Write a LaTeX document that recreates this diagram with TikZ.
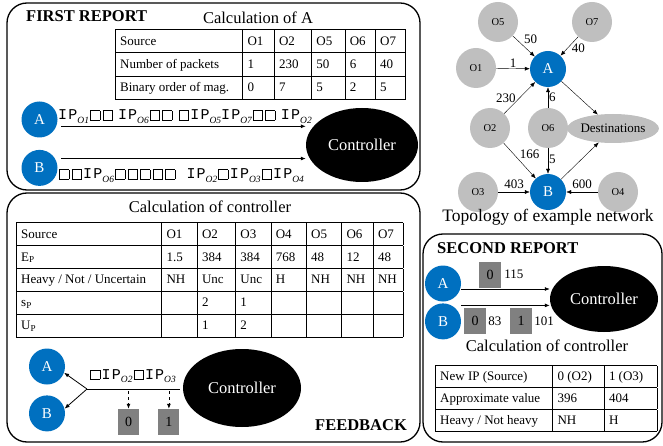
\documentclass[tikz,border=0pt]{standalone}
\usepackage{fontspec}
\setmainfont{Liberation Serif}
\newfontfamily\ipfont{Liberation Mono}
\usetikzlibrary{positioning,shapes.geometric,arrows.meta}

\definecolor{hostblue}{HTML}{0070C0}
\definecolor{srcgray}{HTML}{BFBFBF}
\definecolor{boxgray}{HTML}{808080}

\setlength{\tabcolsep}{5pt}
\setlength{\arrayrulewidth}{0.6pt}

\newcommand{\ipsrc}[1]{{\ipfont I\kern1.2pt P}\raisebox{-3.5pt}{\fontsize{9.5}{9.5}\selectfont\itshape #1}}
\newcommand{\sqbox}{\kern1pt{\setlength{\fboxsep}{0pt}\setlength{\fboxrule}{0.5pt}\fbox{\rule{0pt}{9pt}\hspace{9pt}}}\kern1.5pt}
\newcommand{\rowA}{\rule[-7.2pt]{0pt}{22.7pt}}
\newcommand{\rowB}{\rule[-7pt]{0pt}{22.3pt}}
\newcommand{\rowC}{\rule[-6.8pt]{0pt}{21.4pt}}

\begin{document}
\begin{tikzpicture}[x=1pt, y=-1pt, >={Latex[length=5pt,width=4pt]},
	report box/.style={draw, line width=1.3pt, rounded corners=20pt},
	host node/.style={circle, fill=hostblue, text=white, minimum size=36pt, inner sep=0pt, font=\fontsize{15}{15}\selectfont},
	src node/.style={circle, fill=srcgray, minimum size=40pt, inner sep=0pt, font=\fontsize{10.5}{10.5}\selectfont},
	ctrl node/.style={ellipse, fill=black, text=white, inner sep=0pt, font=\fontsize{16.5}{16.5}\selectfont},
	id box/.style={fill=boxgray, minimum width=22pt, minimum height=26pt, inner sep=0pt, font=\fontsize{14}{14}\selectfont},
	id value/.style={inner sep=1pt, font=\fontsize{13}{13}\selectfont},
	head text/.style={anchor=base west, inner sep=0pt, font=\fontsize{16.5}{16.5}\selectfont\bfseries},
	calc text/.style={anchor=base, inner sep=0pt, font=\fontsize{16.5}{16.5}\selectfont},
	seq text/.style={anchor=base west, inner sep=0pt, font=\fontsize{15}{15}\selectfont},
	table node/.style={anchor=north west, inner sep=0pt, font=\fontsize{13}{15}\selectfont},
	weight/.style={inner sep=1pt, font=\fontsize{13}{13}\selectfont},
	flow/.style={->, line width=0.8pt}]

	\useasboundingbox (0,0) rectangle (663,446);

	\draw[report box] (7,3) rectangle (420,190);
	\draw[report box] (7,193) rectangle (420,442);
	\draw[report box] (423,234) rectangle (662,442);

	% first report
	\node[head text] (first) at (26,22) {FIRST REPORT};
	\node[calc text] (calca) at (258,24) {Calculation of A};
	\node[table node] (taba) at (115,29) {%
		\begin{tabular}{|p{117.4pt}|p{21.4pt}|p{27.4pt}|p{23.4pt}|p{20.4pt}|p{20.4pt}|}
			\hline
			\rowA Source & O1 & O2 & O5 & O6 & O7\\ \hline
			\rowA Number of packets & 1 & 230 & 50 & 6 & 40\\ \hline
			\rowA Binary order of mag. & 0 & 7 & 5 & 2 & 5\\ \hline
		\end{tabular}};

	\node[host node] (a1) at (39.5,119.5) {A};
	\node[host node, below=12pt of a1] (b1) {B};
	\node[ctrl node, minimum width=112pt, minimum height=74pt] (ctrl1) at (362,145) {Controller};

	\draw[flow] ([xshift=5pt]a1.-22) -- (a1.-22 -| ctrl1.west);
	\draw[flow] ([xshift=6pt]b1.31) -- (b1.31 -| ctrl1.west);
	\node[seq text] (seqa) at (58,120) {\ipsrc{O1}\sqbox\sqbox\hspace{4pt}\ipsrc{O6}\sqbox\sqbox\hspace{4pt}\sqbox\ipsrc{O5}\ipsrc{O7}\sqbox\sqbox\hspace{4pt}\ipsrc{O2}};
	\node[seq text] (seqb) at (58,179) {\sqbox\sqbox\ipsrc{O6}\sqbox\sqbox\sqbox\sqbox\sqbox\hspace{10pt}\ipsrc{O2}\sqbox\ipsrc{O3}\sqbox\ipsrc{O4}};

	% topology
	\node[src node] (o5) at (498,22) {O5};
	\node[src node] (o7) at (592,22) {O7};
	\node[src node] (o1) at (476,68) {O1};
	\node[host node] (ta) at (548,69) {A};
	\node[src node] (o2) at (490,128) {O2};
	\node[src node] (o6) at (548,128) {O6};
	\node[ellipse, fill=srcgray, minimum width=80pt, minimum height=29pt, inner sep=0pt, font=\fontsize{13}{13}\selectfont] (dest) at (613,128.5) {Destinations};
	\node[src node] (o3) at (478,192) {O3};
	\node[host node] (tb) at (548,192) {B};
	\node[src node] (o4) at (618,192) {O4};

	\draw[->] (o5) -- (ta) node[weight, pos=.42, anchor=south west, xshift=1pt] {50};
	\draw[->] (o7) -- (ta) node[weight, pos=.6, anchor=west, xshift=3pt] {40};
	\draw[->] (o1) -- (ta) node[weight, pos=.5, above] {1};
	\draw[->] (o2) -- (ta) node[weight, pos=.5, anchor=east, xshift=-3pt] {230};
	\draw[->] (o6) -- (ta) node[weight, pos=.5, anchor=west] {6};
	\draw[->] (o2) -- (tb) node[weight, pos=.47, anchor=south west] {166};
	\draw[->] (o6) -- (tb) node[weight, pos=.45, anchor=west] {5};
	\draw[->] (o3) -- (tb) node[weight, pos=.5, above, yshift=2pt] {403};
	\draw[->] (o4) -- (tb) node[weight, pos=.5, above, yshift=2pt] {600};
	\draw[->] (ta) -- (dest);
	\draw[->] (tb) -- (dest);
	\node[calc text, font=\fontsize{17.5}{17.5}\selectfont] (topo) at (548,222) {Topology of example network};

	% calculation of controller and feedback
	\node[calc text] (calcc) at (210,212.7) {Calculation of controller};
	\node[table node] (tabc) at (16,222) {%
		\begin{tabular}{|p{135.4pt}|p{25.4pt}|p{28.4pt}|p{25.4pt}|p{25.4pt}|p{25.4pt}|p{21.4pt}|p{20.4pt}|}
			\hline
			\rowB Source & O1 & O2 & O3 & O4 & O5 & O6 & O7\\ \hline
			\rowB E\textsubscript{P} & 1.5 & 384 & 384 & 768 & 48 & 12 & 48\\ \hline
			\rowB Heavy / Not / Uncertain & NH & Unc & Unc & H & NH & NH & NH\\ \hline
			\rowB s\textsubscript{P} & & 2 & 1 & & & & \\ \hline
			\rowB U\textsubscript{P} & & 1 & 2 & & & & \\ \hline
		\end{tabular}};

	\node[host node] (a2) at (47,366.5) {A};
	\node[host node, below=10.5pt of a2] (b2) {B};
	\node[ctrl node, minimum width=118pt, minimum height=78pt] (ctrl2) at (242,388) {Controller};
	\coordinate (fb) at (87,389);
	\coordinate (fbe) at (180,389);
	\draw[line width=0.8pt] (fb) -- (fbe);
	\draw[flow] (fb) -- (a2.-20);
	\draw[flow] (fb) -- (b2.15);
	\node[seq text] (seqf) at (89,379) {\sqbox\ipsrc{O2}\sqbox\ipsrc{O3}};
	\node[id box, minimum width=21pt] (g0) at (128.5,422) {0};
	\node[id box, minimum width=21pt, right=19pt of g0] (g1) {1};
	\draw[flow, dashed, shorten <=2pt] (g0 |- fb) -- (g0);
	\draw[flow, dashed, shorten <=2pt] (g1 |- fb) -- (g1);
	\node[head text] (feed) at (315,430) {FEEDBACK};

	% second report
	\node[head text] (second) at (437,253) {SECOND REPORT};
	\node[host node] (a3) at (443,283.5) {A};
	\node[host node, below=1.5pt of a3] (b3) {B};
	\node[ctrl node, minimum width=108pt, minimum height=66pt] (ctrl3) at (604,299) {Controller};
	\draw[flow] ([yshift=-5.5pt]a3.east) -- ([yshift=-5.5pt]a3.east -| ctrl3.west);
	\draw[flow] ([yshift=16pt]b3.east) -- ([yshift=16pt]b3.east -| ctrl3.west);
	\node[id box] (s0) at (490,274.5) {0};
	\node[id value, right=2pt of s0] (v115) {115};
	\node[id box] (t0) at (475,321) {0};
	\node[id value, right=1pt of t0] (v83) {83};
	\node[id box] (t1) at (521,321) {1};
	\node[id value, right=1pt of t1] (v101) {101};
	\node[calc text] (calcs) at (547,351.7) {Calculation of controller};
	\node[table node] (tabs) at (435,365) {%
		\begin{tabular}{|p{107.4pt}|p{41.4pt}|p{43.4pt}|}
			\hline
			\rowC New IP (Source) & 0 (O2) & 1 (O3)\\ \hline
			\rowC Approximate value & 396 & 404\\ \hline
			\rowC Heavy / Not heavy & NH & H\\ \hline
		\end{tabular}};

\end{tikzpicture}
\end{document}
